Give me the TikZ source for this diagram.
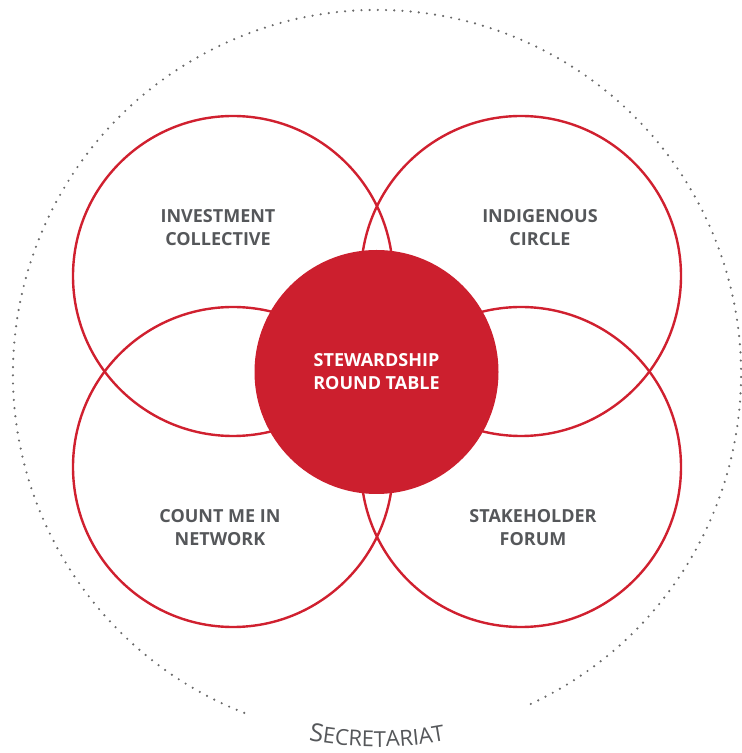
\documentclass[tikz,border=0pt]{standalone}
\usepackage{fontspec}
\setmainfont{Open Sans}
\usetikzlibrary{decorations.text}
\definecolor{ringred}{HTML}{D0202F}
\definecolor{corered}{HTML}{CC1F2E}
\definecolor{labelgray}{HTML}{55575A}
\definecolor{dotgray}{HTML}{6A6A6A}
\newcommand{\labfont}{\fontsize{18}{23}\selectfont\bfseries}
\newcommand{\secfont}{\fontsize{22}{22}\selectfont\color{labelgray}}
\newcommand{\secbig}{\fontsize{25}{25}\selectfont\color{labelgray}}
\tikzset{
  x=1pt, y=1pt,
  ring/.style={circle, draw=ringred, line width=2.4pt, minimum size=320pt, inner sep=0pt, outer sep=0pt},
  core/.style={circle, fill=corered, minimum size=244pt, inner sep=0pt, outer sep=0pt},
  lab/.style={text=labelgray, font=\labfont, align=center, inner sep=0pt},
  corelab/.style={text=white, font=\labfont, align=center, inner sep=0pt},
  dotring/.style={draw=dotgray, line width=2.4pt, dash pattern=on 0pt off 8.2pt, line cap=round}
}
\begin{document}
\begin{tikzpicture}
\useasboundingbox (0,0) rectangle (742,753);
\coordinate (mid) at (377,379);
% dotted outer ring with gap at bottom
\draw[dotring] (mid) ++(295:364) arc[start angle=295, end angle=609, radius=364];
% curved label
\path[decorate, decoration={text along path, text align=center,
   text={|\secbig|S|\secfont|ECRETARIAT}}]
   (mid) ++(235:373) arc[start angle=235, end angle=305, radius=373];
% four rings
\node[ring] (tl) at (233,477) {};
\node[ring] (tr) at (521,477) {};
\node[ring] (bl) at (233,286) {};
\node[ring] (br) at (521,286) {};
% core
\node[core] (core) at (376.5,381) {};
\node[corelab] (corel) at (core.center) {STEWARDSHIP\\ROUND TABLE};
% labels
\node[lab] (tll) at (218,525) {INVESTMENT\\COLLECTIVE};
\node[lab] (trl) at (540,525) {INDIGENOUS\\CIRCLE};
\node[lab] (bll) at (220,225) {COUNT ME IN\\NETWORK};
\node[lab] (brl) at (533,225) {STAKEHOLDER\\FORUM};
\end{tikzpicture}
\end{document}
